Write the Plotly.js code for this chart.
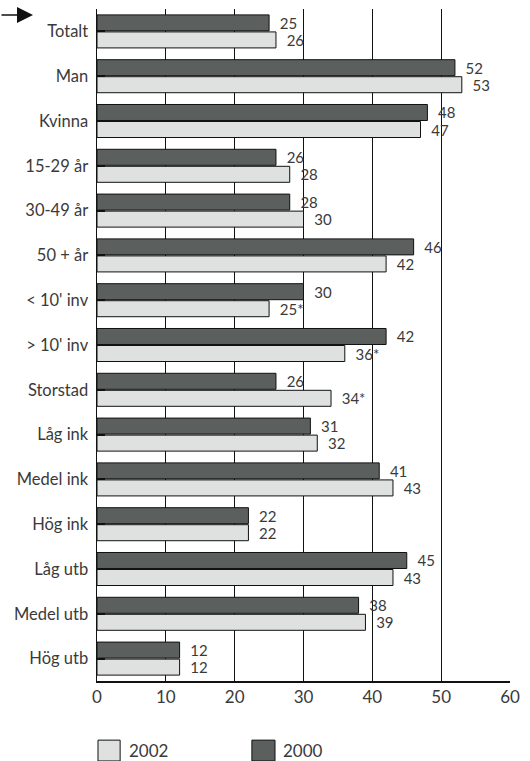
<!DOCTYPE html>
<html>
<head>
<meta charset="utf-8">
<script src="https://cdn.plot.ly/plotly-3.0.1.min.js"></script>
<style>html,body{margin:0;padding:0;background:#fff;}</style>
</head>
<body>
<div id="chart" style="width:530px;height:761px;"></div>
<script>
const categories = ["Totalt","Man","Kvinna","15-29 år","30-49 år","50 + år","< 10' inv","> 10' inv","Storstad","Låg ink","Medel ink","Hög ink","Låg utb","Medel utb","Hög utb"];
const values2000 = [25,52,48,26,28,46,30,42,26,31,41,22,45,38,12];
const values2002 = [26,53,47,28,30,42,25,36,34,32,43,22,43,39,12];
const labels2000 = ["25","52","48","26","28","46","30","42","26","31","41","22","45","38","12"];
const labels2002 = ["26","53","47","28","30","42","25*","36*","34*","32","43","22","43","39","12"];
const xTicks = [0,10,20,30,40,50,60];

const font = "Lato, 'Open Sans', sans-serif";
const txt = "#3a3a3a";
const dark = "#5b605f", light = "#dfe1e1";
const pad = s => "\u00a0\u00a0" + s;

const traces = [
  {type:"bar", orientation:"h", name:"2000", y:categories, x:values2000, text:labels2000.map(pad),
   textposition:"outside", cliponaxis:false, constraintext:"none",
   textfont:{family:font,size:15,color:txt},
   marker:{color:dark, line:{color:"#111",width:1}}, hoverinfo:"x+y"},
  {type:"bar", orientation:"h", name:"2002", y:categories, x:values2002, text:labels2002.map(pad),
   textposition:"outside", cliponaxis:false, constraintext:"none",
   textfont:{family:font,size:15,color:txt},
   marker:{color:light, line:{color:"#111",width:1}}, hoverinfo:"x+y"}
];

const layout = {
  width:530, height:761,
  margin:{l:97, r:20, t:9, b:80},
  paper_bgcolor:"#fff", plot_bgcolor:"#fff",
  barmode:"group", bargap:0.24, bargroupgap:0.06,
  showlegend:false,
  font:{family:font, color:txt},
  xaxis:{range:[0,60], tickvals:xTicks, ticktext:xTicks.map(String),
    showgrid:true, gridcolor:"#111", gridwidth:1,
    showline:true, linecolor:"#111", linewidth:1.5,
    ticks:"", tickfont:{family:font,size:17,color:txt}, zeroline:false, fixedrange:true},
  yaxis:{autorange:"reversed", showline:true, linecolor:"#111", linewidth:1.5,
    ticks:"inside", ticklen:8, tickwidth:2, tickcolor:"#111",
    tickfont:{family:font,size:16.5,color:txt}, ticklabelstandoff:4, fixedrange:true},
  shapes:[
    {type:"rect", xref:"paper", yref:"paper", x0:0.0024, x1:0.056, y0:-0.119, y1:-0.088,
     fillcolor:light, line:{color:"#111",width:1}},
    {type:"rect", xref:"paper", yref:"paper", x0:0.375, x1:0.431, y0:-0.119, y1:-0.088,
     fillcolor:dark, line:{color:"#111",width:1}}
  ],
  annotations:[
    {xref:"paper", yref:"paper", x:0.072, y:-0.1035, text:"2002", showarrow:false,
     xanchor:"left", yanchor:"middle", font:{family:font,size:17,color:txt}},
    {xref:"paper", yref:"paper", x:0.445, y:-0.1035, text:"2000", showarrow:false,
     xanchor:"left", yanchor:"middle", font:{family:font,size:17,color:txt}},
    {xref:"paper", yref:"paper", x:-0.155, y:0.991, ax:-33, ay:0, text:"", showarrow:true,
     arrowhead:2, arrowsize:2, arrowwidth:1.6, arrowcolor:"#111"}
  ]
};

Plotly.newPlot("chart", traces, layout, {displayModeBar:false, staticPlot:true});
</script>
</body>
</html>
